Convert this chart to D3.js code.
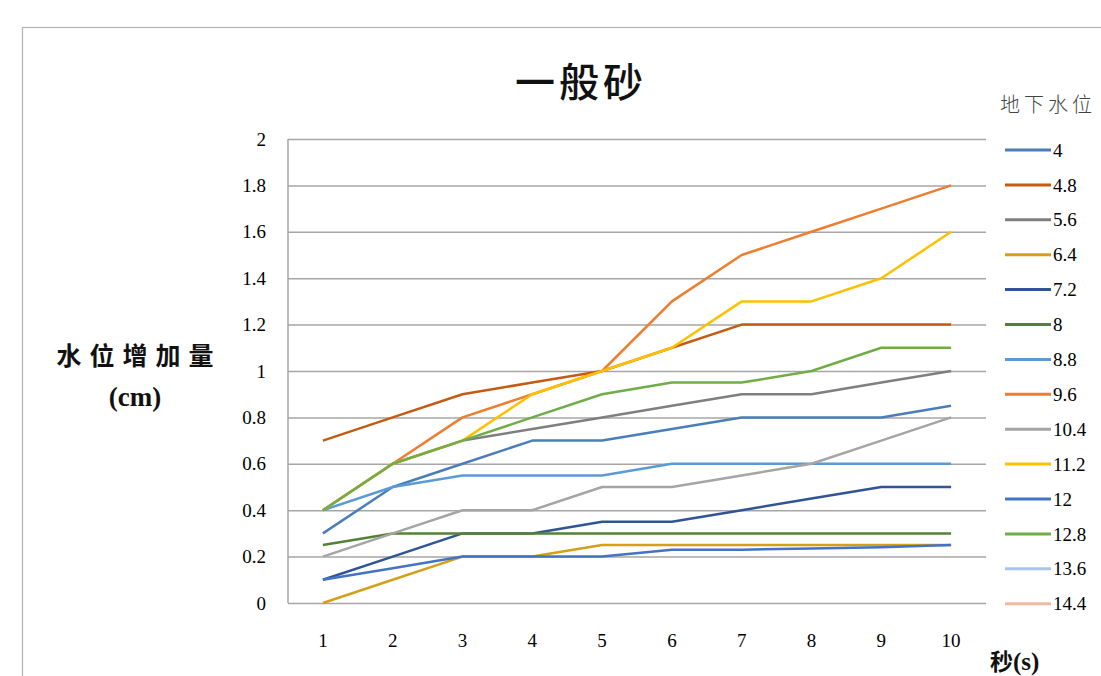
<!DOCTYPE html>
<html>
<head>
<meta charset="utf-8">
<script src="https://cdn.jsdelivr.net/npm/d3@7"></script>
<style>
  body { margin: 0; background: #fff; }
  svg { display: block; }
</style>
</head>
<body>
<script>
// chart size
var w = 1101;
var h = 676;

// data
var seconds = [1, 2, 3, 4, 5, 6, 7, 8, 9, 10];
var levels = ["4", "4.8", "5.6", "6.4", "7.2", "8", "8.8", "9.6", "10.4", "11.2", "12", "12.8", "13.6", "14.4"];
var s4    = [0.3, 0.5, 0.6, 0.7, 0.7, 0.75, 0.8, 0.8, 0.8, 0.85];
var s4_8  = [0.7, 0.8, 0.9, 0.95, 1.0, 1.1, 1.2, 1.2, 1.2, 1.2];
var s5_6  = [0.4, 0.6, 0.7, 0.75, 0.8, 0.85, 0.9, 0.9, 0.95, 1.0];
var s6_4  = [0.0, 0.1, 0.2, 0.2, 0.25, 0.25, 0.25, 0.25, 0.25, 0.25];
var s7_2  = [0.1, 0.2, 0.3, 0.3, 0.35, 0.35, 0.4, 0.45, 0.5, 0.5];
var s8    = [0.25, 0.3, 0.3, 0.3, 0.3, 0.3, 0.3, 0.3, 0.3, 0.3];
var s8_8  = [0.4, 0.5, 0.55, 0.55, 0.55, 0.6, 0.6, 0.6, 0.6, 0.6];
var s9_6  = [0.4, 0.6, 0.8, 0.9, 1.0, 1.3, 1.5, 1.6, 1.7, 1.8];
var s10_4 = [0.2, 0.3, 0.4, 0.4, 0.5, 0.5, 0.55, 0.6, 0.7, 0.8];
var s11_2 = [0.4, 0.6, 0.7, 0.9, 1.0, 1.1, 1.3, 1.3, 1.4, 1.6];
var s12   = [0.1, 0.15, 0.2, 0.2, 0.2, 0.23, 0.23, 0.235, 0.24, 0.25];
var s12_8 = [0.4, 0.6, 0.7, 0.8, 0.9, 0.95, 0.95, 1.0, 1.1, 1.1];
var s13_6 = [];
var s14_4 = [];
var yTicks = [0, 0.2, 0.4, 0.6, 0.8, 1, 1.2, 1.4, 1.6, 1.8, 2];

var colors = ["#4a7ebb", "#c55a11", "#7f7f7f", "#d4a017", "#2f5597", "#548235", "#5b9bd5",
              "#ed7d31", "#a5a5a5", "#ffc000", "#4472c4", "#70ad47", "#a9c6e8", "#f4b8a0"];

var allSeries = [s4, s4_8, s5_6, s6_4, s7_2, s8, s8_8, s9_6, s10_4, s11_2, s12, s12_8, s13_6, s14_4];
var series = levels.map(function(name, i) {
  return { name: name, color: colors[i], values: allSeries[i] };
});

var margin = { top: 139, left: 288, right: 115, bottom: 73 };

var svg = d3.select("body")
  .append("svg")
  .attr("width", w)
  .attr("height", h);

// outer chart frame (runs off the page on the right and bottom)
svg.append("rect")
  .attr("x", 22.5)
  .attr("y", 27.5)
  .attr("width", 1200)
  .attr("height", 800)
  .attr("fill", "#fff")
  .attr("stroke", "#b4b4b4")
  .attr("stroke-width", 1.2);

var x = d3.scaleBand()
  .domain(seconds)
  .range([margin.left, w - margin.right]);

var y = d3.scaleLinear()
  .domain([0, 2])
  .range([h - margin.bottom, margin.top]);

// grid lines
svg.append("g")
  .attr("class", "grid")
  .attr("transform", "translate(" + margin.left + ",0)")
  .call(d3.axisLeft(y).tickValues(yTicks).tickSize(-(w - margin.right - margin.left)).tickFormat(""))
  .call(function(g) {
    g.select(".domain").remove();
    g.selectAll("line").attr("stroke", "#a6a6a6").attr("stroke-width", 1.5);
  });

// left axis line
svg.append("line")
  .attr("x1", margin.left)
  .attr("x2", margin.left)
  .attr("y1", y(2))
  .attr("y2", y(0))
  .attr("stroke", "#a6a6a6")
  .attr("stroke-width", 1.5);

// y tick labels
svg.append("g")
  .attr("transform", "translate(" + margin.left + ",0)")
  .call(d3.axisLeft(y).tickValues(yTicks).tickSize(0).tickPadding(22)
    .tickFormat(function(d) { return String(+d.toFixed(1)); }))
  .call(function(g) {
    g.select(".domain").remove();
    g.selectAll("text")
      .attr("font-family", "'Liberation Serif', serif")
      .attr("font-size", "19px")
      .attr("fill", "#000");
  });

// x tick labels
svg.append("g")
  .attr("transform", "translate(0," + y(0) + ")")
  .call(d3.axisBottom(x).tickSize(0).tickPadding(31))
  .call(function(g) {
    g.select(".domain").remove();
    g.selectAll("text")
      .attr("font-family", "'Liberation Serif', serif")
      .attr("font-size", "19px")
      .attr("fill", "#000");
  });

// lines
var line = d3.line()
  .x(function(d, i) { return x(seconds[i]) + x.bandwidth() / 2; })
  .y(function(d) { return y(d); });

svg.selectAll("path.series")
  .data(series)
  .enter()
  .append("path")
  .attr("class", "series")
  .attr("d", function(d) { return d.values.length ? line(d.values) : null; })
  .attr("fill", "none")
  .attr("stroke", function(d) { return d.color; })
  .attr("stroke-width", 2.5)
  .attr("stroke-linejoin", "round");

// title
svg.append("text")
  .attr("x", 581)
  .attr("y", 97)
  .attr("text-anchor", "middle")
  .attr("font-family", "'Noto Sans CJK TC', sans-serif")
  .attr("font-weight", "500")
  .attr("font-size", "40px")
  .attr("letter-spacing", "4px")
  .attr("fill", "#111")
  .text("一般砂");

// y axis title
svg.append("text")
  .attr("x", 139)
  .attr("y", 365)
  .attr("text-anchor", "middle")
  .attr("font-family", "'Noto Sans CJK TC', sans-serif")
  .attr("font-weight", "bold")
  .attr("font-size", "25px")
  .attr("letter-spacing", "8px")
  .attr("fill", "#111")
  .text("水位增加量");

svg.append("text")
  .attr("x", 135)
  .attr("y", 406)
  .attr("text-anchor", "middle")
  .attr("font-family", "'Liberation Serif', serif")
  .attr("font-weight", "bold")
  .attr("font-size", "27px")
  .attr("fill", "#111")
  .text("(cm)");

// x axis title
var xt = svg.append("text")
  .attr("x", 990)
  .attr("y", 670)
  .attr("font-family", "'Noto Sans CJK TC', sans-serif")
  .attr("font-weight", "bold")
  .attr("font-size", "23px")
  .attr("fill", "#111");
xt.append("tspan").text("秒");
xt.append("tspan").attr("font-family", "'Liberation Serif', serif").attr("font-size", "25px").text("(s)");

// legend
svg.append("text")
  .attr("x", 1000)
  .attr("y", 112)
  .attr("font-family", "'Noto Sans CJK TC', sans-serif")
  .attr("font-weight", "300")
  .attr("font-size", "20px")
  .attr("letter-spacing", "4px")
  .attr("fill", "#444")
  .text("地下水位");

var legend = svg.selectAll("g.legend")
  .data(series)
  .enter()
  .append("g")
  .attr("class", "legend")
  .attr("transform", function(d, i) { return "translate(1005," + (150 + i * 34.9) + ")"; });

legend.append("line")
  .attr("x1", 0)
  .attr("x2", 46)
  .attr("stroke", function(d) { return d.color; })
  .attr("stroke-width", 3);

legend.append("text")
  .attr("x", 48)
  .attr("dy", "0.35em")
  .attr("font-family", "'Liberation Serif', serif")
  .attr("font-size", "19px")
  .attr("fill", "#000")
  .text(function(d) { return d.name; });
</script>
</body>
</html>
